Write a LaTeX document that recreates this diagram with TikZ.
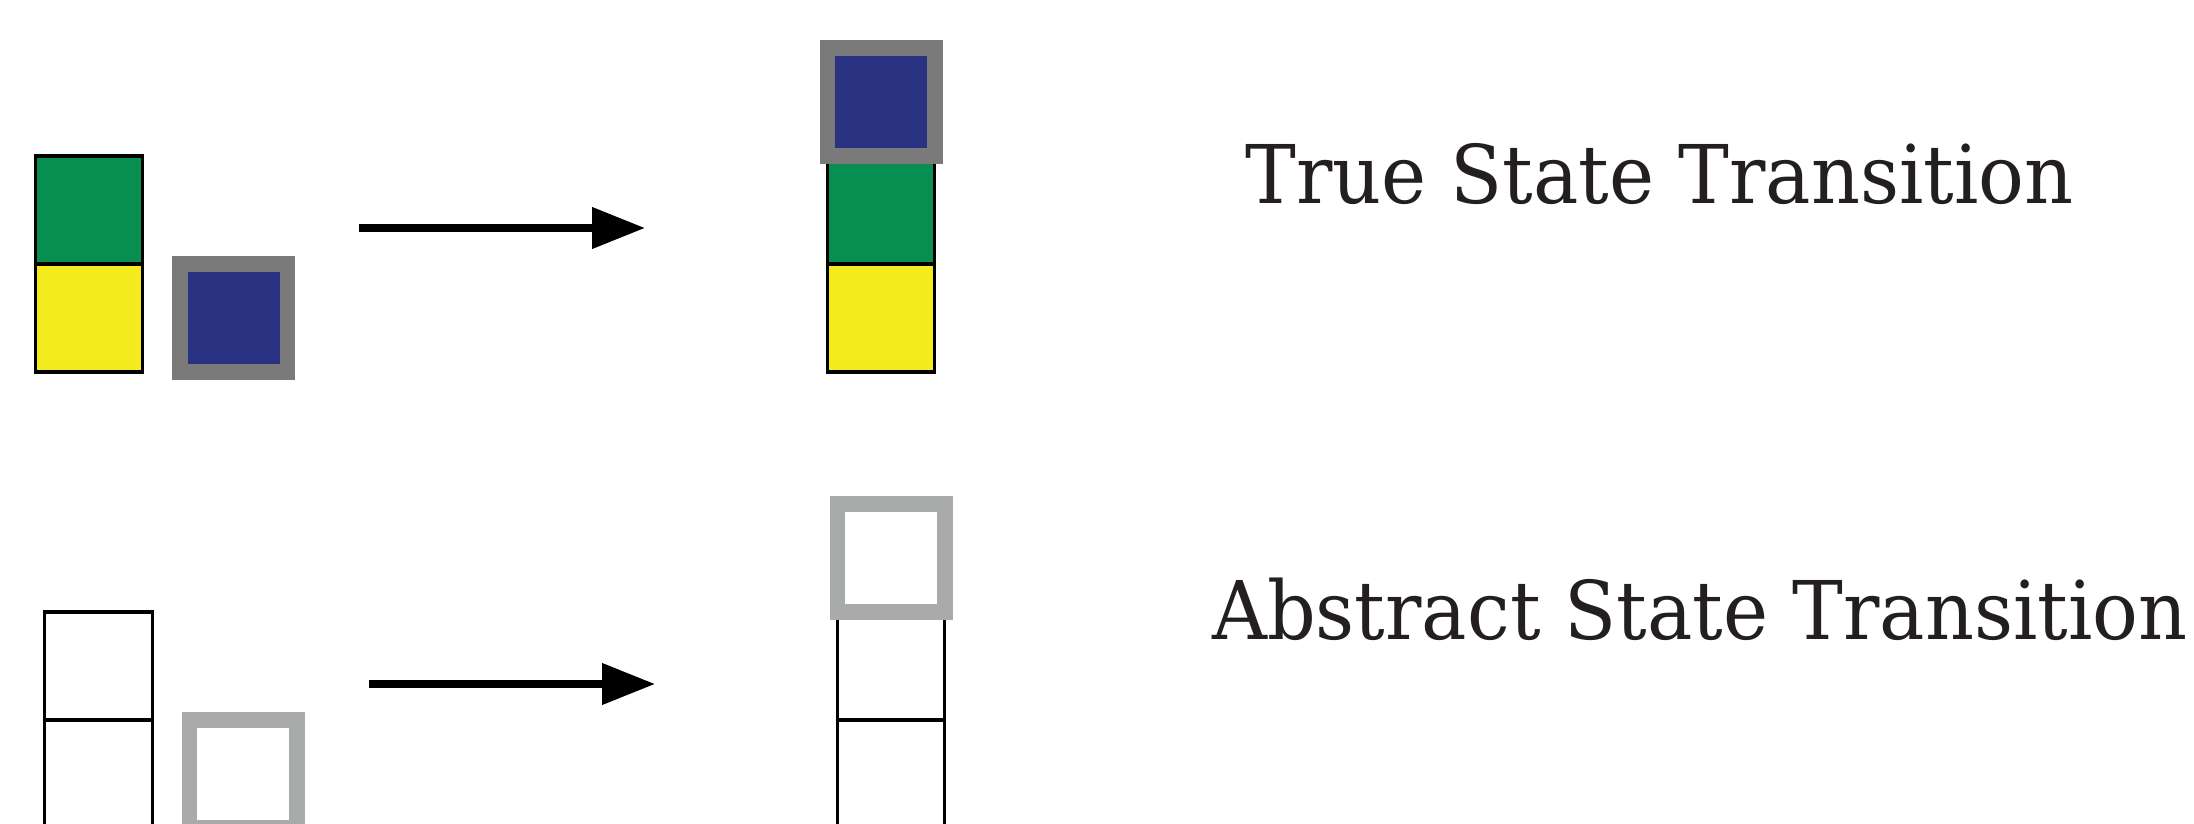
\documentclass[tikz,border=0pt]{standalone}
\usepackage{fontspec}
\newfontfamily\capfont{DejaVu Serif}[FakeStretch=0.94]
\usepackage{tikz}
\usetikzlibrary{positioning}
\usetikzlibrary{arrows.meta}

\definecolor{bgreen}{RGB}{6,143,81}
\definecolor{byellow}{RGB}{243,235,30}
\definecolor{bblue}{RGB}{42,50,130}
\definecolor{dgray}{RGB}{122,122,122}
\definecolor{lgray}{RGB}{169,171,170}
\definecolor{txtcol}{RGB}{35,31,32}

\begin{document}
\begin{tikzpicture}[x=1pt,y=1pt,
	cell/.style={draw=black, line width=3.4pt, minimum width=107.5pt, minimum height=108pt, inner sep=0pt, outer sep=0pt},
	heldbox/.style={draw=#1, line width=15.5pt, minimum width=107.5pt, minimum height=108pt, inner sep=0pt, outer sep=0pt},
	move/.style={line width=7.5pt, -{Triangle[length=53pt,width=40pt]}},
	caption/.style={anchor=base west, text=txtcol, inner sep=0pt, font=\capfont\fontsize{81}{95}\selectfont}]
	\useasboundingbox (0,0) rectangle (2194,823);
	% true state
	\node[cell, fill=byellow] (y1) at (89,505) {};
	\node[cell, fill=bgreen, above=0pt of y1] (g1) {};
	\node[heldbox=dgray, fill=bblue] (b1) at (233.5,505) {};
	\coordinate (s1) at (359,595);
	\coordinate (e1) at (645,595);
	\draw[move] (s1) -- (e1);
	\node[cell, fill=byellow] (y2) at (881,505) {};
	\node[cell, fill=bgreen, above=0pt of y2] (g2) {};
	\node[heldbox=dgray, fill=bblue, above=0pt of g2] (b2) {};
	\node[caption] (ttrue) at (1245,619) {True State Transition};
	% abstract state
	\node[cell] (y3) at (98.5,49) {};
	\node[cell, above=0pt of y3] (g3) {};
	\node[heldbox=lgray] (b3) at (243,49) {};
	\coordinate (s2) at (369,139);
	\coordinate (e2) at (655,139);
	\draw[move] (s2) -- (e2);
	\node[cell] (y4) at (891,49) {};
	\node[cell, above=0pt of y4] (g4) {};
	\node[heldbox=lgray, above=0pt of g4] (b4) {};
	\node[caption] (tabs) at (1212,184) {Abstract State Transition};
\end{tikzpicture}
\end{document}
